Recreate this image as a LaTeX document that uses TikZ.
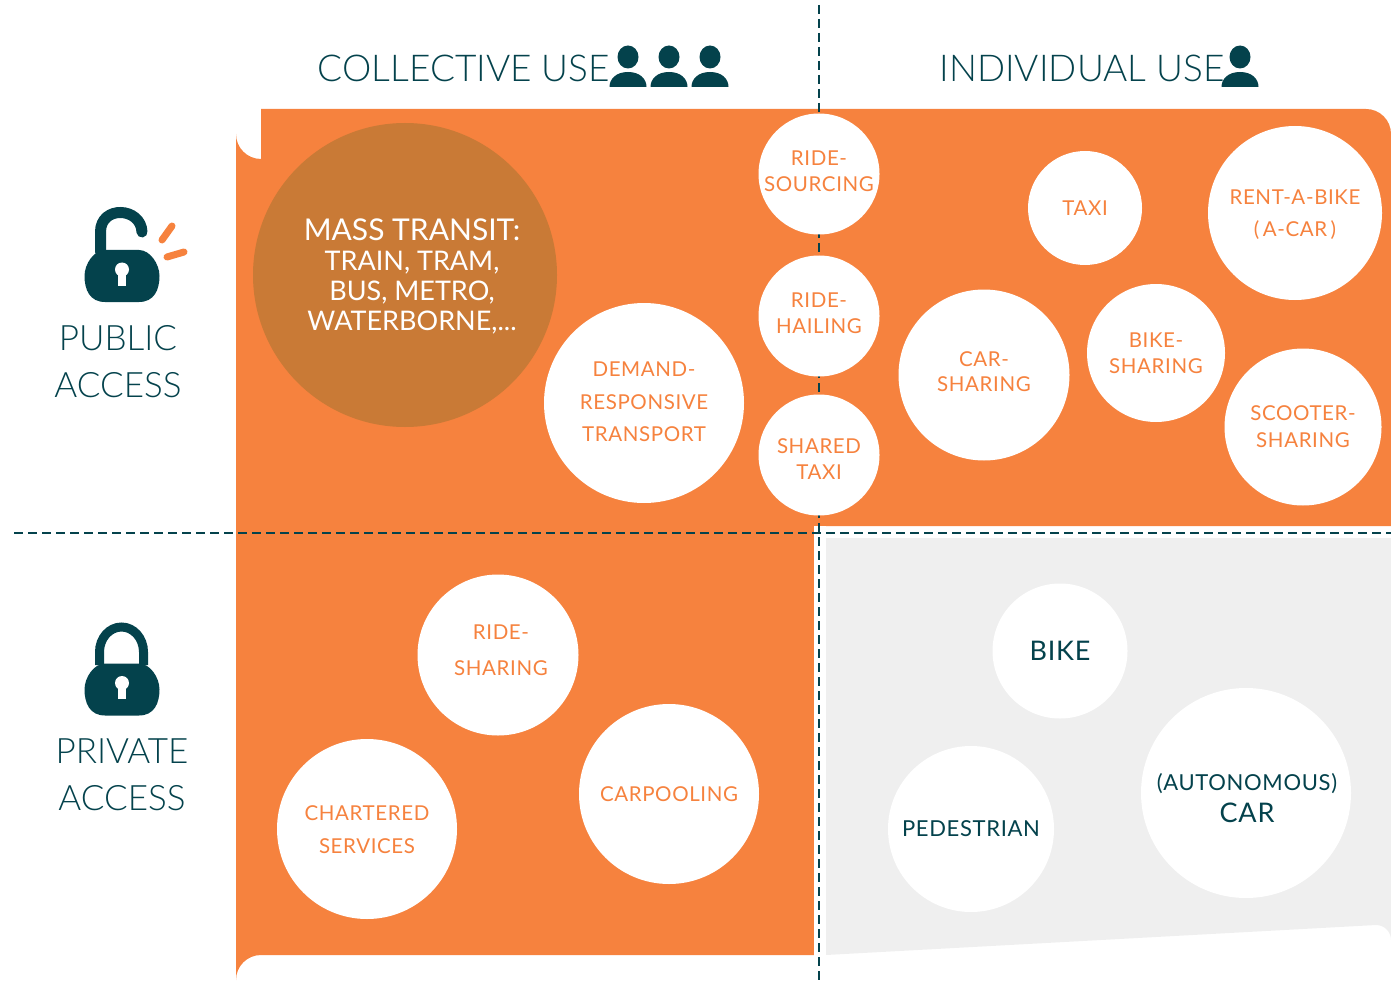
\documentclass[tikz,border=0pt]{standalone}
\usepackage{fontspec}
\usetikzlibrary{positioning}
\setmainfont{Lato}
\newfontfamily\headfont{Lato Light}
\newfontfamily\circfont[LetterSpace=3]{Lato}
\definecolor{deepteal}{HTML}{04424C}
\definecolor{mobility}{HTML}{F6823E}
\definecolor{transit}{HTML}{C97A36}
\definecolor{privgray}{HTML}{EFEFEF}
\tikzset{
  service/.style={circle,fill=white,inner sep=0pt},
  servicetext/.style={text=mobility,align=center,inner sep=0pt},
  owntext/.style={servicetext,text=deepteal},
  heading/.style={text=deepteal,font=\headfont\fontsize{37}{37}\selectfont,inner sep=0pt},
  accesstext/.style={text=deepteal,align=center,inner sep=0pt,font=\headfont\fontsize{35}{47}\selectfont},
  divider/.style={draw=deepteal,line width=2.8pt,dash pattern=on 9pt off 5pt},
  person/.pic={
    \fill[deepteal] (0,-30) ellipse (10.5 and 11.5);
    \fill[deepteal] (-18.5,0) .. controls (-18.5,-8) and (-12,-15) .. (0,-15)
      .. controls (12,-15) and (18.5,-8) .. (18.5,0) -- cycle;
  },
  lockbody/.pic={
    \fill[deepteal] (-17,-26) -- (17,-26) .. controls (28,-26) and (37.5,-12) .. (37.5,0)
      .. controls (37.5,14) and (32,26) .. (17,26) -- (-17,26)
      .. controls (-32,26) and (-37.5,14) .. (-37.5,0)
      .. controls (-37.5,-12) and (-28,-26) .. (-17,-26) -- cycle;
    \fill[white] (0,-6.5) circle (7);
    \fill[white] (-4,-6.5) rectangle (4,9.5);
  }
}
\begin{document}
\begin{tikzpicture}[x=1pt,y=-1pt]
  \useasboundingbox (0,0) rectangle (1391,984);

  % Quadrants
  \fill[mobility] (261,109) -- (1366,109) arc (90:0:25 and -25) -- (1391,526) -- (814,526)
    -- (814,955) -- (261,955) arc (90:180:25 and -25) -- (236,134) arc (180:270:25 and -25) -- cycle;
  \fill[privgray] (826,538) -- (1391,538) -- (1391,940) arc (0:90:15 and -15) -- (826,955) -- cycle;
  \fill[white] (814,526) rectangle (826,984);

  % Dashed axes
  \coordinate (top) at (819,5);
  \coordinate (bottom) at (819,984);
  \coordinate (left) at (14,533);
  \coordinate (right) at (1391,533);
  \path[divider] (top) -- (bottom);
  \path[divider] (left) -- (right);

  % Circles
  \node[circle,fill=transit,inner sep=0pt,minimum size=304pt] (cmass) at (405,275) {};
  \foreach \pos / \name / \size in {{(819,174)/ridesourcing/121}, {(819,316)/ridehailing/121},
                                    {(819,455)/sharedtaxi/121}, {(644,403)/demand/200},
                                    {(1085,208)/taxi/114}, {(1295,213)/rent/174},
                                    {(984,375)/carsharing/171}, {(1156,353)/bikesharing/138},
                                    {(1303,427)/scooter/157}, {(498,655)/ridesharing/161},
                                    {(367,829)/chartered/180}, {(669,794)/carpooling/180},
                                    {(1060,651)/bike/135}, {(971,829)/pedestrian/166},
                                    {(1246,793)/car/210}}
    \node[service,minimum size=\size pt] (c\name) at \pos {};

  % Labels of the circles
  \node[align=center,text=white,inner sep=0pt,font=\fontsize{27}{30}\selectfont] (mass) at (412,276)
    {\fontsize{30}{31}\selectfont MASS TRANSIT:\\TRAIN, TRAM,\\BUS, METRO,\\WATERBORNE,...};
  \foreach \pos / \name / \fs / \ls / \txt in {
      {(819,171)/ridesourcing/20.5/26/{RIDE-\\SOURCING}},
      {(819,313)/ridehailing/20.5/26/{RIDE-\\HAILING}},
      {(819,459)/sharedtaxi/20.5/26/{SHARED\\TAXI}},
      {(644,402)/demand/20.5/32.5/{DEMAND-\\RESPONSIVE\\TRANSPORT}},
      {(1085,208)/taxi/20.5/24/{TAXI}},
      {(1295,215)/rent/20.5/32/{RENT-A-BIKE\\(\,A-CAR\,)}},
      {(984,372)/carsharing/20.5/25/{CAR-\\SHARING}},
      {(1156,353)/bikesharing/20.5/26/{BIKE-\\SHARING}},
      {(1303,427)/scooter/20.5/27/{SCOOTER-\\SHARING}},
      {(501,650)/ridesharing/20.5/36/{RIDE-\\SHARING}},
      {(367,830)/chartered/20.5/33/{CHARTERED\\SERVICES}},
      {(669,794)/carpooling/20.5/24/{CARPOOLING}}}
    \node[servicetext,font=\circfont\fontsize{\fs}{\ls}\selectfont] (\name) at \pos {\txt};
  \node[owntext,font=\circfont\fontsize{27}{30}\selectfont] (bike) at (1060,651) {BIKE};
  \node[owntext,font=\circfont\fontsize{22}{26}\selectfont] (pedestrian) at (971,829) {PEDESTRIAN};
  \node[owntext,font=\circfont\fontsize{22}{32}\selectfont] (car) at (1247,798)
    {(AUTONOMOUS)\\{\fontsize{27}{32}\selectfont CAR}};

  % Headings
  \node[heading] (collective) at (464,68) {COLLECTIVE USE};
  \node[heading] (individual) at (1082,68) {INDIVIDUAL USE};
  \foreach \x in {628,669,710,1240}
    \pic at (\x,87) {person};

  % Access labels
  \node[accesstext] (public) at (118,362) {PUBLIC\\ACCESS};
  \node[accesstext] (private) at (122,775) {PRIVATE\\ACCESS};

  % Locks
  \draw[deepteal,line width=11pt,line cap=round] (100.5,252) -- (100.5,232)
    .. controls (100.5,205) and (141,207) .. (142,232);
  \pic at (122,276) {lockbody};
  \draw[mobility,line width=7pt,line cap=round] (172,226) -- (162,240);
  \draw[mobility,line width=7pt,line cap=round] (184,252) -- (167,257);
  \draw[deepteal,line width=9pt] (99.5,665) -- (99.5,652) arc (180:0:22 and -25) -- (143.5,665);
  \pic at (122,689.5) {lockbody};
\end{tikzpicture}
\end{document}
